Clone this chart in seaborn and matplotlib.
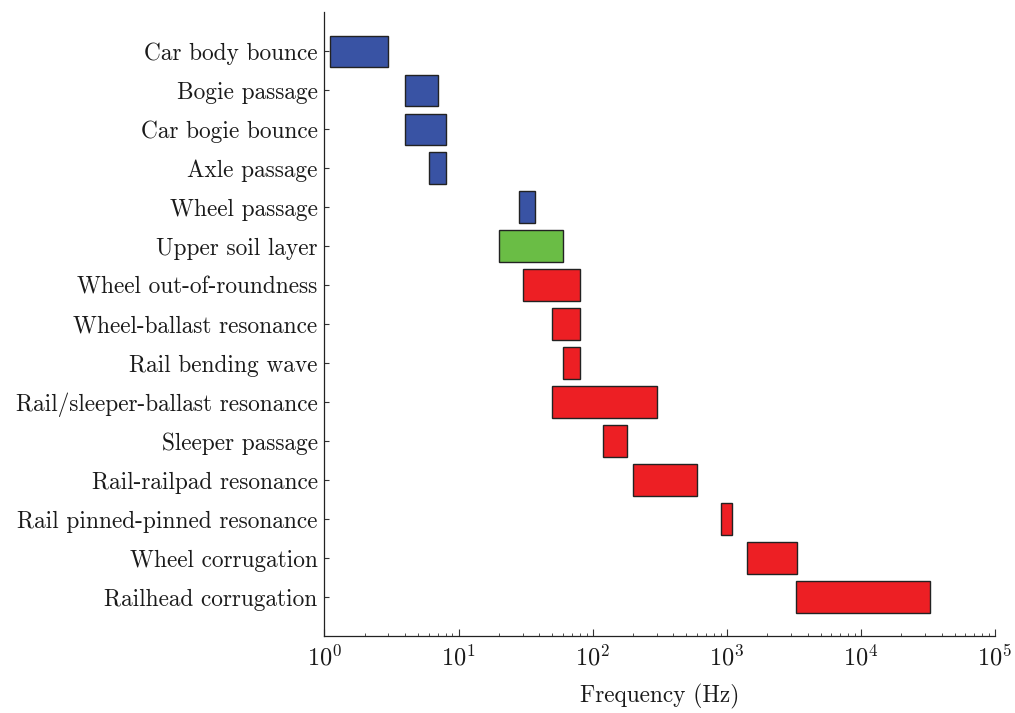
import numpy as np
import pandas as pd
import matplotlib
matplotlib.use("Agg")
import matplotlib.pyplot as plt
import seaborn as sns

categories = ["Car body bounce", "Bogie passage", "Car bogie bounce", "Axle passage",
              "Wheel passage", "Upper soil layer", "Wheel out-of-roundness",
              "Wheel-ballast resonance", "Rail bending wave",
              "Rail/sleeper-ballast resonance", "Sleeper passage",
              "Rail-railpad resonance", "Rail pinned-pinned resonance",
              "Wheel corrugation", "Railhead corrugation"]
f_low = [1.1, 4, 4, 6, 28, 20, 30, 50, 60, 50, 120, 200, 900, 1420, 3300]
f_high = [3, 7, 8, 8, 37, 60, 80, 80, 80, 300, 180, 600, 1100, 3330, 33000]
groups = ["vehicle"] * 5 + ["soil"] + ["track"] * 9
palette = {"vehicle": "#3953A4", "soil": "#6ABD45", "track": "#ED1F24"}

df = pd.DataFrame({"cat": categories, "lo": f_low, "hi": f_high, "grp": groups})

sns.set_style("ticks")
plt.rcParams["font.family"] = "serif"
plt.rcParams["font.serif"] = ["cmr10", "DejaVu Serif"]
plt.rcParams["mathtext.fontset"] = "cm"
plt.rcParams["axes.formatter.use_mathtext"] = True
plt.rcParams["text.color"] = "#1a1a1a"
plt.rcParams["axes.labelcolor"] = "#1a1a1a"
plt.rcParams["xtick.labelcolor"] = "#1a1a1a"
plt.rcParams["ytick.labelcolor"] = "#1a1a1a"

fig = plt.figure(figsize=(10.15, 7.13), dpi=100)
ax = fig.add_axes([0.3197, 0.108, 0.6606, 0.875])

ypos = np.arange(len(df))
ax.barh(ypos, df["hi"] - df["lo"], left=df["lo"], height=0.8,
        color=[palette[g] for g in df["grp"]], edgecolor="#222222", linewidth=1.0)

ax.set_xscale("log")
ax.set_xlim(1, 1e5)
ax.set_ylim(len(df), -1)
ax.set_yticks(ypos)
ax.set_yticklabels(df["cat"], fontsize=16.8)
ax.set_xlabel("Frequency (Hz)", fontsize=16.8, labelpad=10)
ax.tick_params(axis="x", which="major", direction="in", length=5, width=0.8, labelsize=17.5, pad=6, color="#333333")
ax.tick_params(axis="x", which="minor", direction="in", length=2.5, width=0.6, color="#333333")
ax.tick_params(axis="y", direction="in", length=3.5, width=0.8, pad=5, color="#333333")
sns.despine(ax=ax)
for s in ["left", "bottom"]:
    ax.spines[s].set_linewidth(0.9)
    ax.spines[s].set_color("#222222")

fig.savefig("out.png", dpi=100)
